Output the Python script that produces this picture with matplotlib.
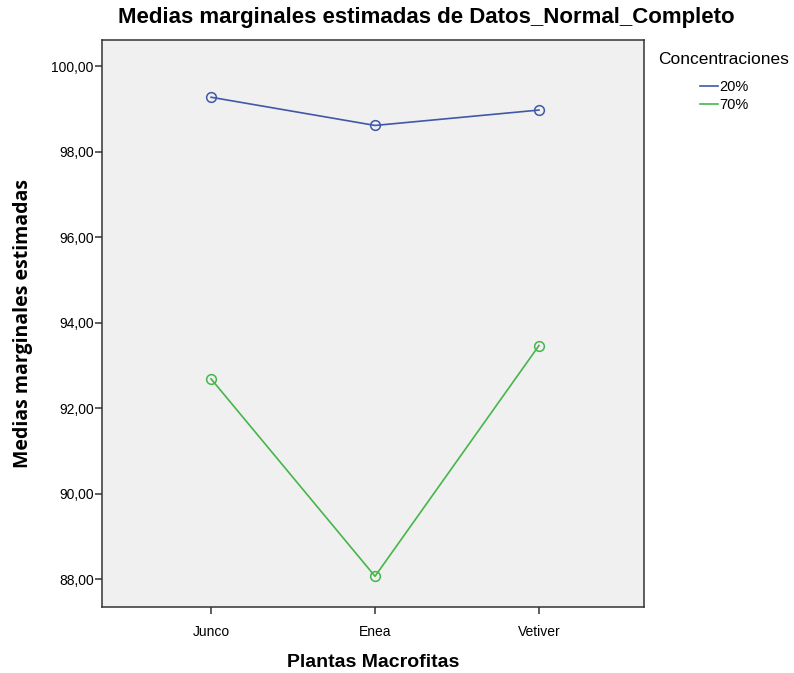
import matplotlib
matplotlib.use("Agg")
import matplotlib.pyplot as plt
from matplotlib.lines import Line2D

plt.rcParams['font.family'] = ['Liberation Sans', 'DejaVu Sans']

categories = ["Junco", "Enea", "Vetiver"]
series_names = ["20%", "70%"]
values_20 = [99.28, 98.62, 98.98]
values_70 = [92.69, 88.07, 93.47]
yticks = [88, 90, 92, 94, 96, 98, 100]
ytick_labels = ["88,00", "90,00", "92,00", "94,00", "96,00", "98,00", "100,00"]

colors = ["#3F58A8", "#45B64A"]

fig = plt.figure(figsize=(7.94, 6.73), dpi=100)
ax = fig.add_axes([0.1285, 0.098, 0.6825, 0.8426])
ax.set_facecolor("#F0F0F0")

x = list(range(len(categories)))
for vals, c, name in zip([values_20, values_70], colors, series_names):
    ax.plot(x, vals, color=c, lw=1.2, marker='o', ms=7, mfc='none', mec=c, mew=1.1, label=name)

ax.set_xlim(-0.665, 2.64)
ax.set_ylim(87.35, 100.62)
ax.set_xticks(x)
ax.set_xticklabels(categories, fontsize=10)
ax.set_yticks(yticks)
ax.set_yticklabels(ytick_labels, fontsize=10)
for s in ax.spines.values():
    s.set_color("#333333")
    s.set_linewidth(1.1)
ax.tick_params(axis='both', direction='out', length=5, width=1.1, color="#333333")
ax.tick_params(axis='y', pad=1)
ax.tick_params(axis='x', pad=8)

fig.text(426 / 794, 1 - 18 / 673, "Medias marginales estimadas de Datos_Normal_Completo",
         fontsize=16, fontweight='bold', ha='center', va='center')
ax.set_xlabel("Plantas Macrofitas", fontsize=14, fontweight='bold', labelpad=11)
ax.set_ylabel("Medias marginales estimadas", fontsize=14, fontweight='bold',
              family=['Open Sans', 'DejaVu Sans'])
ax.yaxis.set_label_coords(-0.127, 0.5)

fig.text(724 / 794, 1 - 60 / 673, "Concentraciones", fontsize=12.5, ha='center', va='center')
handles = [Line2D([0], [0], color=c, lw=1.2) for c in colors]
leg = fig.legend(handles, series_names, loc='upper left', bbox_to_anchor=(0.8816, 0.881),
                 frameon=False, fontsize=10.5, borderpad=0, borderaxespad=0,
                 handlelength=1.25, handletextpad=0.1, labelspacing=0.3)

fig.savefig("out.png", dpi=100, facecolor='white')
